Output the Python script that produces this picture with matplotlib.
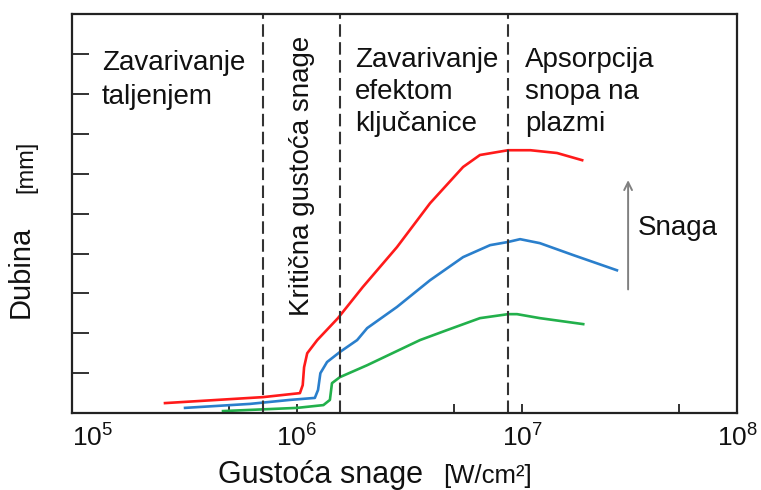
import matplotlib
matplotlib.use("Agg")
import matplotlib.pyplot as plt
from matplotlib.ticker import FixedLocator, NullFormatter

plt.rcParams['font.family'] = ['Liberation Sans', 'DejaVu Sans']
plt.rcParams['mathtext.fontset'] = 'custom'
plt.rcParams['mathtext.rm'] = 'Liberation Sans'
plt.rcParams['mathtext.it'] = 'Liberation Sans:italic'

# gustoća snage [W/cm2] i dubina (bez jedinica na osi, procjena iz slike)
red_x = [2.59e5, 7.07e5, 1.03e6, 1.06e6, 1.075e6, 1.11e6, 1.23e6, 1.52e6, 1.96e6,
         2.78e6, 3.90e6, 5.47e6, 6.50e6, 8.67e6, 1.09e7, 1.43e7, 1.85e7]
red_y = [0.25, 0.40, 0.50, 0.70, 1.15, 1.50, 1.83, 2.38, 3.16,
         4.16, 5.26, 6.17, 6.47, 6.59, 6.59, 6.52, 6.34]

blue_x = [3.18e5, 6.18e5, 9.3e5, 1.20e6, 1.24e6, 1.27e6, 1.36e6, 1.55e6, 1.85e6, 2.05e6,
          2.78e6, 3.90e6, 5.47e6, 7.21e6, 8.67e6, 9.8e6, 1.20e7, 1.69e7, 2.64e7]
blue_y = [0.13, 0.23, 0.33, 0.38, 0.58, 1.00, 1.28, 1.53, 1.83, 2.13,
          2.66, 3.33, 3.91, 4.21, 4.29, 4.36, 4.26, 3.96, 3.58]

green_x = [4.69e5, 1.0e6, 1.31e6, 1.40e6, 1.43e6, 1.55e6, 2.05e6, 3.52e6, 4.64e6,
           6.50e6, 8.67e6, 9.5e6, 1.20e7, 1.87e7]
green_y = [0.05, 0.13, 0.20, 0.33, 0.75, 0.90, 1.20, 1.83, 2.08,
           2.38, 2.48, 2.48, 2.38, 2.23]

# granice područja
granice = [7.07e5, 1.55e6, 8.67e6]

fig = plt.figure(figsize=(7.61, 4.90), dpi=100)
ax = fig.add_axes([0.0946, 0.157, 0.874, 0.814])

ax.plot(red_x, red_y, color='#ff1a1a', lw=1.9, solid_joinstyle='round')
ax.plot(blue_x, blue_y, color='#2a7fcc', lw=1.9, solid_joinstyle='round')
ax.plot(green_x, green_y, color='#22b04b', lw=1.9, solid_joinstyle='round')

for g in granice:
    ax.axvline(g, color='#333333', lw=1.5, dashes=(6, 2.6))

ax.set_xscale('log')
ax.set_xlim(1e5, 9.03e7)
ax.set_ylim(0, 10)

ax.set_xticks([1e5, 1e6, 1e7, 9.03e7])
ax.set_xticklabels(['$10^5$', '$10^6$', '$10^7$', '$10^8$'], fontsize=19)
ax.get_xticklabels()[0].set_horizontalalignment('left')
ax.xaxis.set_minor_locator(FixedLocator([5e5, 5e6, 5e7]))
ax.xaxis.set_minor_formatter(NullFormatter())
ax.tick_params(axis='x', which='both', direction='in', length=6.5, width=1.3,
               pad=8, colors='#222222', labelcolor='#111111')

ax.set_yticks(range(1, 10))
ax.set_yticklabels([])
ax.tick_params(axis='y', direction='in', length=12.5, width=1.3, colors='#222222')

for s in ax.spines.values():
    s.set_linewidth(1.6)
    s.set_color('#222222')

tc = '#111111'
ax.text(0.045, 0.91, 'Zavarivanje\ntaljenjem', transform=ax.transAxes,
        fontsize=20, ha='left', va='top', color=tc, linespacing=1.4)
ax.text(0.346, 0.594, 'Kritična gustoća snage', transform=ax.transAxes,
        fontsize=20, ha='center', va='center', rotation=90, color=tc)
ax.text(0.426, 0.917, 'Zavarivanje\nefektom\nključanice', transform=ax.transAxes,
        fontsize=20, ha='left', va='top', color=tc, linespacing=1.3)
ax.text(0.681, 0.917, 'Apsorpcija\nsnopa na\nplazmi', transform=ax.transAxes,
        fontsize=20, ha='left', va='top', color=tc, linespacing=1.3)
ax.text(0.851, 0.464, 'Snaga', transform=ax.transAxes,
        fontsize=20, ha='left', va='center', color=tc)

# strelica "Snaga"
ax.annotate('', xy=(2.96e7, 5.91), xytext=(2.96e7, 3.03),
            arrowprops=dict(arrowstyle='->', color='#808080', lw=1.4,
                            mutation_scale=14))

# naslovi osi
fig.text(0.286, 0.014, 'Gustoća snage', fontsize=22, ha='left', va='baseline', color=tc)
fig.text(0.582, 0.014, '[W/cm²]', fontsize=18.5, ha='left', va='baseline', color=tc)
fig.text(0.027, 0.445, 'Dubina', fontsize=21, rotation=90, ha='center', va='center', color=tc)
fig.text(0.035, 0.659, '[mm]', fontsize=17, rotation=90, ha='center', va='center', color=tc)

fig.savefig('out.png', dpi=100)
